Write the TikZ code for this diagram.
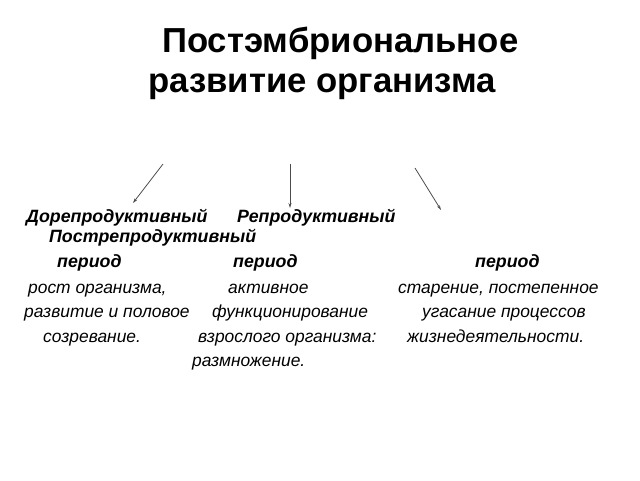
\documentclass[tikz,border=0pt]{standalone}
\usepackage{fontspec}
\setmainfont{Liberation Sans}
\usetikzlibrary{arrows.meta}

\tikzset{
  title/.style={anchor=base west, inner sep=0pt, font=\fontsize{34.7}{38}\selectfont\bfseries},
  head/.style={anchor=base west, inner sep=0pt, font=\fontsize{17.8}{20}\selectfont\bfseries\itshape},
  body/.style={anchor=base west, inner sep=0pt, font=\fontsize{17.4}{19}\selectfont\itshape},
  arr/.style={draw=black!70, line width=0.8pt, -{Stealth[length=5pt,width=3pt]}}
}

\begin{document}
\begin{tikzpicture}[x=1pt,y=-1pt]
        \useasboundingbox (0,0) rectangle (640,480);

        % Title
        \node[title] (t1) at (162,52) {Постэмбриональное};
        \node[title] (t2) at (148,92) {развитие организма};

        % Arrow ends
        \coordinate (a1s) at (163,164);
        \coordinate (a1e) at (133,203);
        \coordinate (a2s) at (290,164);
        \coordinate (a2e) at (290,208);
        \coordinate (a3s) at (415,168);
        \coordinate (a3e) at (441,210);
        \draw[arr] (a1s) -- (a1e);
        \draw[arr] (a2s) -- (a2e);
        \draw[arr] (a3s) -- (a3e);

        % Period names
        \node[head] (h1) at (26,222) {Дорепродуктивный};
        \node[head] (h2) at (237,222) {Репродуктивный};
        \node[head] (h3) at (49,242) {Пострепродуктивный};
        \node[head] (p1) at (57,267) {период};
        \node[head] (p2) at (233,267) {период};
        \node[head] (p3) at (475,267) {период};

        % Descriptions
        \node[body] (d11) at (28,293) {рост организма,};
        \node[body] (d12) at (24,317.5) {развитие и половое};
        \node[body] (d13) at (43,342) {созревание.};
        \node[body] (d21) at (228,293) {активное};
        \node[body] (d22) at (212,317.5) {функционирование};
        \node[body] (d23) at (198,342) {взрослого организма:};
        \node[body] (d24) at (192,366) {размножение.};
        \node[body] (d31) at (398,293) {старение, постепенное};
        \node[body] (d32) at (422,317.5) {угасание процессов};
        \node[body] (d33) at (407,342) {жизнедеятельности.};
\end{tikzpicture}
\end{document}
